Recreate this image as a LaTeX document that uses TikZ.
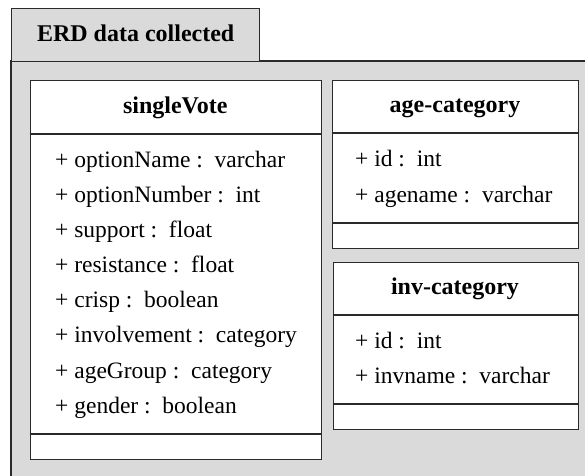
\documentclass[tikz,border=0pt]{standalone}
\usepackage{fontspec}
\setmainfont{Liberation Serif}
\definecolor{pkggray}{HTML}{DADADA}
\definecolor{edgegray}{HTML}{2A2A2A}
\begin{document}
\begin{tikzpicture}[x=1pt, y=-1pt,
  edge/.style={draw=edgegray, line width=1.3pt},
  tabbox/.style={edge, fill=pkggray, rectangle, inner sep=0, anchor=north west,
    font=\fontsize{24}{28}\selectfont\bfseries, text height=1.45em, text depth=0.2em},
  classbox/.style={edge, fill=white, rectangle, inner sep=0, anchor=north west},
  classname/.style={font=\fontsize{24}{28}\selectfont\bfseries, inner sep=0,
    text height=1.45em, text depth=0.2em},
  attr/.style={font=\fontsize{23.5}{28}\selectfont, anchor=west, inner sep=0,
    text height=1.45em, text depth=0.2em}]
  \useasboundingbox (0,0) rectangle (585,475);
  \clip (0,0) rectangle (585,475);

  % package body and its tab
  \fill[pkggray] (11,61) rectangle (600,490);
  \draw[edge] (600,61) -- (11,61) -- (11,490);
  \node (tab) [tabbox, minimum width=248, minimum height=53] at (11,8) {ERD data collected};

  % class singleVote
  \node (sv) [classbox, minimum width=291.5, minimum height=379] at (29.5,80) {};
  \node (svname) [classname] at (175.25,107) {singleVote};
  \draw[edge] (sv.west |- 0,134) -- (sv.east |- 0,134);
  \draw[edge] (sv.west |- 0,434) -- (sv.east |- 0,434);
  \foreach \t [count=\i] in {
      {+ optionName :\enspace varchar},
      {+ optionNumber :\enspace int},
      {+ support :\enspace float},
      {+ resistance :\enspace float},
      {+ crisp :\enspace boolean},
      {+ involvement :\enspace category},
      {+ ageGroup :\enspace category},
      {+ gender :\enspace boolean}}
    \node (sv-a\i) [attr] at (55, {161+35.14*(\i-1)}) {\t};

  % class age-category
  \node (age) [classbox, minimum width=246, minimum height=168] at (332,80) {};
  \node (agename) [classname] at (455,106.5) {age-category};
  \draw[edge] (age.west |- 0,133) -- (age.east |- 0,133);
  \draw[edge] (age.west |- 0,223) -- (age.east |- 0,223);
  \node (age-a1) [attr] at (355,160) {+ id :\enspace int};
  \node (age-a2) [attr] at (355,196) {+ agename :\enspace varchar};

  % class inv-category
  \node (inv) [classbox, minimum width=245, minimum height=167] at (332.5,262) {};
  \node (invname) [classname] at (455,288.5) {inv-category};
  \draw[edge] (inv.west |- 0,315) -- (inv.east |- 0,315);
  \draw[edge] (inv.west |- 0,404) -- (inv.east |- 0,404);
  \node (inv-a1) [attr] at (355,342) {+ id :\enspace int};
  \node (inv-a2) [attr] at (355,377) {+ invname :\enspace varchar};
\end{tikzpicture}
\end{document}
